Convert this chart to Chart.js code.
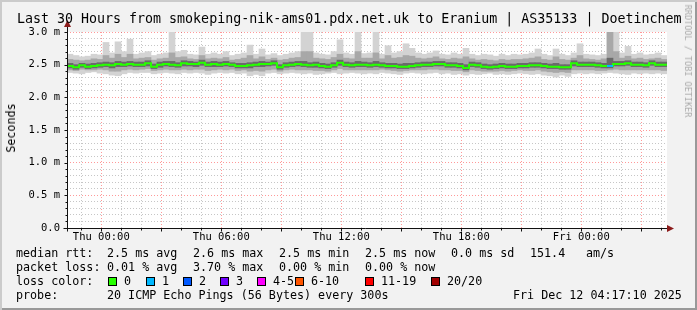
<!DOCTYPE html>
<html>
<head>
<meta charset="utf-8">
<script src="https://cdn.jsdelivr.net/npm/chart.js@4"></script>
<style>
  html, body { margin: 0; padding: 0; background: #fff; }
  #frame {
    position: relative; width: 697px; height: 310px; overflow: hidden;
    background: #f2f2f2;
    box-shadow: inset 2px 2px 0 #cbcbcb, inset -2px -2px 0 #999;
    font-family: 'DejaVu Sans Mono', monospace; color: #000;
  }
  #c { position: absolute; left: 0; top: 0; }
  .t { position: absolute; font-size: 11.7px; line-height: 14px; white-space: pre; }
  .box { position: absolute; width: 9px; height: 9px; box-sizing: border-box; border: 1px solid #000; }
  #title { position: absolute; left: 17px; top: 11px; font-size: 13.3px; line-height: 16px; white-space: pre; }
  #ylab { position: absolute; left: 11px; top: 128px; font-size: 11.7px; white-space: nowrap;
          transform: translate(-50%, -50%) rotate(-90deg); }
  #credit { position: absolute; left: 688px; top: 61px; font-size: 8.5px; color: #aaa; white-space: nowrap;
            transform: translate(-50%, -50%) rotate(90deg); }
</style>
</head>
<body>
<div id="frame">
  <canvas id="c" width="697" height="310"></canvas>
  <div id="title">Last 30 Hours from smokeping-nik-ams01.pdx.net.uk to Eranium | AS35133 | Doetinchem</div>
  <div id="ylab">Seconds</div>
  <div id="credit">RRDTOOL / TOBI OETIKER</div>

  <div class="t" style="left:16px;top:246px">median rtt:</div>
  <div class="t" style="left:107px;top:246px">2.5 ms avg</div>
  <div class="t" style="left:193px;top:246px">2.6 ms max</div>
  <div class="t" style="left:279px;top:246px">2.5 ms min</div>
  <div class="t" style="left:365px;top:246px">2.5 ms now</div>
  <div class="t" style="left:451px;top:246px">0.0 ms sd</div>
  <div class="t" style="left:530px;top:246px">151.4</div>
  <div class="t" style="left:586px;top:246px">am/s</div>

  <div class="t" style="left:16px;top:260px">packet loss:</div>
  <div class="t" style="left:107px;top:260px">0.01 % avg</div>
  <div class="t" style="left:193px;top:260px">3.70 % max</div>
  <div class="t" style="left:279px;top:260px">0.00 % min</div>
  <div class="t" style="left:365px;top:260px">0.00 % now</div>

  <div class="t" style="left:16px;top:274px">loss color:</div>
  <div id="losslegend"></div>

  <div class="t" style="left:16px;top:288px">probe:</div>
  <div class="t" style="left:107px;top:288px">20 ICMP Echo Pings (56 Bytes) every 300s</div>
  <div class="t" style="left:513px;top:288px">Fri Dec 12 04:17:10 2025</div>
</div>

<script>
// time axis in hours relative to Thu 00:00; window Wed 22:17:10 .. Fri 04:17:10
const X_MIN = -1.7139;
const X_MAX = 28.2861;
const STEP_H = 0.3; // one sample every 18 minutes

const xTickHours = [0, 6, 12, 18, 24];
const xTickLabels = ['Thu 00:00', 'Thu 06:00', 'Thu 12:00', 'Thu 18:00', 'Fri 00:00'];
const yTickValues = [0, 0.5, 1, 1.5, 2, 2.5, 3];
const yTickLabels = ['0.0', '0.5 m', '1.0 m', '1.5 m', '2.0 m', '2.5 m', '3.0 m'];

// milliseconds
const rttMedian = [
  2.48,2.46,2.49,2.47,2.48,2.49,2.50,2.49,2.51,2.50,
  2.51,2.50,2.50,2.52,2.47,2.50,2.51,2.50,2.49,2.52,
  2.51,2.51,2.53,2.50,2.51,2.50,2.51,2.50,2.48,2.48,
  2.49,2.50,2.51,2.51,2.52,2.46,2.49,2.50,2.51,2.50,
  2.49,2.50,2.48,2.47,2.49,2.53,2.50,2.49,2.50,2.50,
  2.49,2.50,2.49,2.48,2.48,2.47,2.47,2.48,2.49,2.50,
  2.50,2.51,2.51,2.49,2.49,2.48,2.45,2.50,2.49,2.47,
  2.46,2.47,2.48,2.47,2.47,2.48,2.48,2.49,2.49,2.48,
  2.47,2.47,2.46,2.46,2.52,2.50,2.50,2.50,2.49,2.48,
  2.48,2.51,2.51,2.52,2.50,2.50,2.49,2.52,2.50,2.50
];
const rttMax = [
  2.66,2.64,2.62,2.63,2.66,2.65,2.84,2.68,2.85,2.70,
  2.89,2.66,2.68,2.70,2.64,2.66,2.68,3.05,2.70,2.72,
  2.66,2.65,2.77,2.66,2.68,2.66,2.70,2.64,2.66,2.68,
  2.80,2.66,2.74,2.65,2.67,2.64,2.66,2.68,2.70,3.05,
  3.05,2.68,2.66,2.65,2.70,2.88,2.68,2.66,3.05,2.67,
  2.68,3.00,2.66,2.79,2.68,2.70,2.82,2.75,2.68,2.66,
  2.68,2.71,2.66,2.65,2.68,2.66,2.75,2.66,2.64,2.66,
  2.65,2.63,2.66,2.64,2.66,2.65,2.66,2.68,2.74,2.66,
  2.64,2.74,2.66,2.64,2.68,2.82,2.66,2.65,2.64,2.66,
  3.10,3.05,2.68,2.78,2.66,2.68,2.65,2.66,2.68,2.64
];
const rttMin = [
  2.38,2.37,2.36,2.38,2.39,2.37,2.36,2.34,2.33,2.36,
  2.38,2.37,2.38,2.38,2.36,2.37,2.38,2.37,2.36,2.38,
  2.37,2.38,2.37,2.35,2.37,2.38,2.37,2.38,2.36,2.37,
  2.33,2.35,2.33,2.37,2.38,2.36,2.37,2.38,2.37,2.36,
  2.37,2.35,2.36,2.37,2.38,2.36,2.37,2.38,2.37,2.36,
  2.37,2.36,2.38,2.37,2.36,2.35,2.37,2.38,2.37,2.36,
  2.37,2.38,2.36,2.37,2.35,2.36,2.34,2.36,2.35,2.36,
  2.37,2.35,2.36,2.35,2.36,2.37,2.36,2.35,2.36,2.34,
  2.33,2.31,2.34,2.32,2.36,2.37,2.36,2.37,2.36,2.37,
  2.38,2.37,2.36,2.35,2.37,2.36,2.37,2.36,2.37,2.36
];
const smokeHiMid = [
  2.58,2.57,2.56,2.57,2.59,2.58,2.64,2.60,2.66,2.61,
  2.66,2.59,2.60,2.61,2.57,2.59,2.60,2.68,2.61,2.62,
  2.59,2.58,2.64,2.59,2.60,2.59,2.61,2.57,2.58,2.60,
  2.64,2.59,2.62,2.58,2.60,2.57,2.58,2.60,2.61,2.70,
  2.70,2.60,2.59,2.58,2.61,2.66,2.60,2.59,2.70,2.60,
  2.60,2.68,2.59,2.64,2.60,2.61,2.64,2.63,2.60,2.59,
  2.60,2.62,2.59,2.58,2.60,2.59,2.62,2.59,2.57,2.58,
  2.57,2.56,2.58,2.57,2.58,2.58,2.59,2.60,2.62,2.58,
  2.57,2.62,2.58,2.57,2.60,2.64,2.59,2.58,2.57,2.59,
  3.05,2.70,2.60,2.63,2.59,2.60,2.58,2.59,2.60,2.58
];
const smokeLoMid = [
  2.42,2.41,2.43,2.42,2.42,2.43,2.42,2.40,2.40,2.42,
  2.43,2.42,2.43,2.44,2.41,2.42,2.43,2.42,2.42,2.43,
  2.42,2.43,2.43,2.41,2.42,2.43,2.42,2.43,2.41,2.42,
  2.40,2.41,2.40,2.42,2.43,2.40,2.42,2.43,2.42,2.42,
  2.42,2.41,2.41,2.40,2.42,2.44,2.42,2.42,2.42,2.42,
  2.42,2.42,2.43,2.42,2.41,2.40,2.41,2.42,2.42,2.42,
  2.43,2.43,2.42,2.42,2.41,2.41,2.39,2.42,2.41,2.40,
  2.40,2.40,2.41,2.40,2.41,2.42,2.41,2.41,2.42,2.40,
  2.39,2.38,2.39,2.38,2.42,2.42,2.42,2.42,2.41,2.41,
  2.42,2.43,2.42,2.42,2.42,2.42,2.42,2.42,2.42,2.41
];
const smokeHiInner = [
  2.52,2.50,2.52,2.51,2.52,2.53,2.54,2.53,2.55,2.54,
  2.55,2.54,2.54,2.56,2.51,2.54,2.55,2.55,2.53,2.56,
  2.55,2.54,2.57,2.54,2.55,2.54,2.55,2.53,2.52,2.52,
  2.53,2.54,2.55,2.54,2.56,2.50,2.53,2.54,2.55,2.55,
  2.53,2.54,2.52,2.51,2.53,2.57,2.54,2.53,2.55,2.54,
  2.53,2.55,2.53,2.52,2.52,2.51,2.52,2.52,2.53,2.54,
  2.54,2.55,2.55,2.53,2.53,2.52,2.50,2.54,2.53,2.51,
  2.50,2.51,2.52,2.51,2.51,2.52,2.52,2.53,2.53,2.52,
  2.51,2.52,2.50,2.50,2.56,2.54,2.54,2.54,2.53,2.52,
  2.60,2.55,2.55,2.56,2.54,2.54,2.53,2.56,2.54,2.54
];
const smokeLoInner = [
  2.45,2.43,2.46,2.44,2.45,2.46,2.47,2.45,2.47,2.47,
  2.48,2.47,2.47,2.48,2.44,2.46,2.48,2.47,2.46,2.48,
  2.48,2.47,2.49,2.47,2.47,2.47,2.48,2.47,2.45,2.45,
  2.45,2.47,2.47,2.48,2.49,2.43,2.46,2.47,2.48,2.47,
  2.46,2.46,2.45,2.44,2.46,2.49,2.47,2.46,2.47,2.47,
  2.46,2.47,2.46,2.45,2.45,2.44,2.44,2.45,2.46,2.47,
  2.47,2.48,2.48,2.46,2.46,2.45,2.42,2.47,2.46,2.44,
  2.43,2.44,2.45,2.44,2.44,2.45,2.45,2.46,2.46,2.45,
  2.44,2.44,2.43,2.43,2.48,2.47,2.47,2.47,2.46,2.45,
  2.45,2.48,2.48,2.49,2.47,2.47,2.46,2.49,2.47,2.47
];
// lost pings (of 20) per sample
const lossCount = [
  0,0,0,0,0,0,0,0,0,0,
  0,0,0,0,0,0,0,0,0,0,
  0,0,0,0,0,0,0,0,0,0,
  0,0,0,0,0,0,0,0,0,0,
  0,0,0,0,0,0,0,0,0,0,
  0,0,0,0,0,0,0,0,0,0,
  0,0,0,0,0,0,0,0,0,0,
  0,0,0,0,0,0,0,0,0,0,
  0,0,0,0,0,0,0,0,0,0,
  1,0,0,0,0,0,0,0,0,0
];

const lossLabels = ['0', '1', '2', '3', '4-5', '6-10', '11-19', '20/20'];
const lossColors = ['#26ff00', '#00b8ff', '#0059ff', '#7000ff', '#ff00ff', '#ff5500', '#ff0000', '#a10000'];

// legend swatches
const boxX = [108, 146, 183, 220, 257, 295, 365, 431];
document.getElementById('losslegend').innerHTML = lossLabels.map((lab, i) => `
  <div class="box" style="left:${boxX[i]}px;top:277px;background:${lossColors[i]}"></div>
  <div class="t" style="left:${boxX[i] + 16}px;top:274px">${lab}</div>
`).join('');

function isMajorY(v) { return Math.abs(v * 2 - Math.round(v * 2)) < 1e-6; }

function band(lo, hi, color) {
  return {
    type: 'bar',
    data: lo.map((v, i) => ({ x: X_MIN + (i + 0.5) * STEP_H, y: [v, hi[i]] })),
    backgroundColor: color,
    borderWidth: 0,
    barPercentage: 1,
    categoryPercentage: 1,
    grouped: false,
  };
}

// median as one flat step per sample: start and end of each sample interval
function medianSteps(keep) {
  const pts = [];
  rttMedian.forEach((v, i) => {
    const ok = keep(i);
    pts.push({ x: X_MIN + i * STEP_H, y: ok ? v : null });
    pts.push({ x: X_MIN + (i + 1) * STEP_H, y: ok ? v : null });
  });
  return pts;
}

const axes = {
  id: 'axes',
  beforeDraw(chart) {
    const { ctx, chartArea: a } = chart;
    ctx.save();
    ctx.fillStyle = '#fff';
    ctx.fillRect(a.left, a.top, a.right - a.left, a.bottom - a.top);
    ctx.restore();
  },
  afterDatasetsDraw(chart) {
    const { ctx, chartArea: a, scales: { x, y } } = chart;
    const ax = Math.round(a.left) + 0.5;
    const ay = Math.round(a.bottom) + 0.5;
    ctx.save();
    ctx.strokeStyle = '#111';
    ctx.lineWidth = 1;
    ctx.beginPath();
    y.ticks.forEach(t => {
      const py = Math.round(y.getPixelForValue(t.value)) + 0.5;
      ctx.moveTo(ax - (isMajorY(t.value) ? 3 : 2), py);
      ctx.lineTo(ax, py);
    });
    x.ticks.forEach(t => {
      const px = Math.round(x.getPixelForValue(t.value)) + 0.5;
      ctx.moveTo(px, ay);
      ctx.lineTo(px, ay + (t.value % 3 === 0 ? 3 : 2));
    });
    ctx.moveTo(ax, ay + 3);
    ctx.lineTo(ax, a.top - 6);
    ctx.moveTo(ax - 4, ay);
    ctx.lineTo(a.right + 1, ay);
    ctx.stroke();

    ctx.fillStyle = '#8c1c1c';
    ctx.beginPath();
    ctx.moveTo(ax, a.top - 12);
    ctx.lineTo(ax - 3.5, a.top - 5);
    ctx.lineTo(ax + 3.5, a.top - 5);
    ctx.closePath();
    ctx.fill();
    ctx.beginPath();
    ctx.moveTo(a.right + 7, ay);
    ctx.lineTo(a.right, ay - 3.5);
    ctx.lineTo(a.right, ay + 3.5);
    ctx.closePath();
    ctx.fill();
    ctx.restore();
  }
};

const gridMinor = '#c6c6c6';
const gridMajor = 'rgba(255,0,0,0.4)';
const tickFont = { family: 'DejaVu Sans Mono', size: 10.5 };

new Chart(document.getElementById('c'), {
  type: 'bar',
  data: {
    datasets: [
      {
        type: 'line',
        data: medianSteps(i => lossCount[i] > 0),
        borderColor: lossColors[1],
        borderWidth: 2,
        pointRadius: 0,
        spanGaps: false,
      },
      {
        type: 'line',
        data: medianSteps(() => true),
        borderColor: lossColors[0],
        borderWidth: 2,
        pointRadius: 0,
        spanGaps: false,
      },
      band(smokeLoInner, smokeHiInner, '#6a6a6a'),
      band(smokeLoMid, smokeHiMid, '#a8a8a8'),
      band(rttMin, rttMax, '#d3d3d3'),
    ]
  },
  options: {
    responsive: false,
    animation: false,
    devicePixelRatio: 1,
    layout: { padding: { left: 0, top: 32, right: 30, bottom: 62 } },
    plugins: { legend: { display: false }, tooltip: { enabled: false } },
    scales: {
      x: {
        type: 'linear', min: X_MIN, max: X_MAX, offset: false,
        afterBuildTicks: s => {
          const t = [];
          for (let h = -1; h <= 28; h++) t.push({ value: h });
          s.ticks = t;
        },
        afterFit: s => { s.height = 20; },
        grid: {
          offset: false, drawTicks: false, lineWidth: 1,
          color: c => (c.tick && c.tick.value % 3 === 0) ? gridMajor : gridMinor,
        },
        border: { display: false, dash: [1, 2] },
        ticks: {
          autoSkip: false, maxRotation: 0, padding: 3, color: '#000', font: tickFont,
          callback: v => { const i = xTickHours.indexOf(v); return i >= 0 ? xTickLabels[i] : ''; }
        }
      },
      y: {
        type: 'linear', min: 0, max: 3,
        afterBuildTicks: s => {
          const t = [];
          for (let k = 0; k <= 30; k++) t.push({ value: k / 10 });
          s.ticks = t;
        },
        afterFit: s => { s.width = 67; },
        grid: {
          drawTicks: false, lineWidth: 1,
          color: c => (c.tick && isMajorY(c.tick.value)) ? gridMajor : gridMinor,
        },
        border: { display: false, dash: [1, 2] },
        ticks: {
          autoSkip: false, padding: 7, color: '#000', font: tickFont,
          callback: v => {
            const i = yTickValues.findIndex(t => Math.abs(t - v) < 1e-6);
            return i >= 0 ? yTickLabels[i] : '';
          }
        }
      }
    }
  },
  plugins: [axes]
});
</script>
</body>
</html>
